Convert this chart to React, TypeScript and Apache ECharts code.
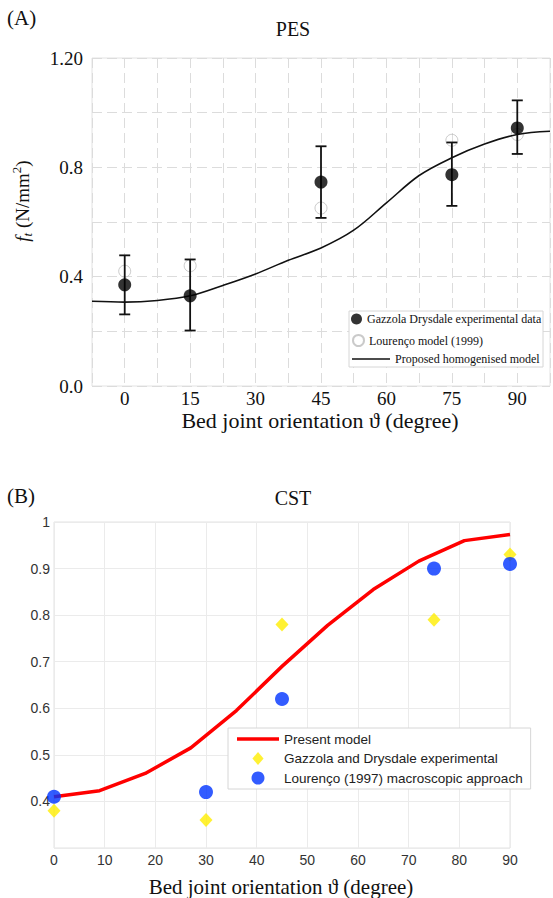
import React, { useEffect, useRef } from "react";
import * as echarts from "echarts";

// ---------- Panel A (PES) ----------
const pesModelX = [-7.5, 0, 7.5, 15, 22.5, 30, 37.5, 45, 52.5, 60, 67.5, 75, 82.5, 90, 97.5];
const pesModelY = [0.31, 0.307, 0.313, 0.33, 0.368, 0.41, 0.46, 0.505, 0.57, 0.67, 0.77, 0.835, 0.885, 0.92, 0.932];
const pesExpX = [0, 15, 45, 75, 90];
const pesExpY = [0.37, 0.33, 0.746, 0.773, 0.944];
const pesExpLow = [0.262, 0.203, 0.615, 0.659, 0.849];
const pesExpHigh = [0.478, 0.463, 0.877, 0.891, 1.045];
const pesLourencoX = [0, 15, 45, 75, 90];
const pesLourencoY = [0.42, 0.44, 0.651, 0.899, 0.92];
const pesYTicks: Record<string, string> = { "0": "0.0", "0.4": "0.4", "0.8": "0.8", "1.2": "1.20" };
const pesXTicks = [0, 15, 30, 45, 60, 75, 90];

// ---------- Panel B (CST) ----------
const cstModelX = [0, 9, 18, 27, 36, 45, 54, 63, 72, 81, 90];
const cstModelY = [0.41, 0.423, 0.46, 0.515, 0.595, 0.69, 0.778, 0.855, 0.916, 0.96, 0.973];
const cstExpX = [0, 30, 45, 75, 90];
const cstExpY = [0.38, 0.36, 0.78, 0.79, 0.93];
const cstLourencoX = [0, 30, 45, 75, 90];
const cstLourencoY = [0.41, 0.42, 0.62, 0.9, 0.91];

const SERIF = "'Liberation Serif', 'Times New Roman', serif";
const SANS = "'Liberation Sans', Arial, sans-serif";

const NAME_A1 = "Gazzola Drysdale experimental data";
const NAME_A2 = "Lourenço model (1999)";
const NAME_A3 = "Proposed homogenised model";
const NAME_B1 = "Present model";
const NAME_B2 = "Gazzola and Drysdale experimental";
const NAME_B3 = "Lourenço (1997) macroscopic approach";

export default function App() {
  const ref = useRef<HTMLDivElement>(null);
  useEffect(() => {
    if (!ref.current) return;
    const chart = echarts.init(ref.current, undefined, { renderer: "svg" });
    const zip = (xs: number[], ys: number[]) => xs.map((x, i) => [x, ys[i]]);
    const dash = [10, 5];
    const legendTextA = { fontFamily: SERIF, fontSize: 12, color: "#111" };
    const option: any = {
      animation: false,
      backgroundColor: "#fff",
      grid: [
        { left: 92, top: 58, width: 462, height: 328, show: true, borderColor: "#e2e2e2", borderWidth: 1 },
        { left: 54, top: 522, width: 456, height: 326, show: true, borderColor: "#e2e2e2", borderWidth: 1 },
      ],
      xAxis: [
        {
          gridIndex: 0, type: "value", min: -7.5, max: 97.5, interval: 7.5,
          axisLine: { show: false }, axisTick: { show: false },
          splitLine: { show: true, lineStyle: { color: "#dcdcdc", type: dash, width: 1 } },
          axisLabel: {
            margin: 3, fontSize: 19, fontFamily: SERIF, color: "#111",
            showMinLabel: true, showMaxLabel: true,
            formatter: (v: number) => (pesXTicks.indexOf(Math.round(v * 10) / 10) >= 0 ? String(Math.round(v)) : ""),
          },
        },
        {
          gridIndex: 1, type: "value", min: 0, max: 90, interval: 10,
          axisLine: { show: false }, axisTick: { show: false },
          splitLine: { show: true, lineStyle: { color: "#ebebeb", width: 1 } },
          axisLabel: { margin: 5, fontSize: 14, fontFamily: SANS, color: "#333" },
        },
      ],
      yAxis: [
        {
          gridIndex: 0, type: "value", min: 0, max: 1.2, interval: 0.2,
          axisLine: { show: false }, axisTick: { show: false },
          splitLine: { show: true, lineStyle: { color: "#dcdcdc", type: dash, width: 1 } },
          axisLabel: {
            margin: 9, fontSize: 19, fontFamily: SERIF, color: "#111",
            formatter: (v: number) => pesYTicks[String(Math.round(v * 10) / 10)] || "",
          },
        },
        {
          gridIndex: 1, type: "value", min: 0.3, max: 1, interval: 0.1,
          axisLine: { show: false }, axisTick: { show: false },
          splitLine: { show: true, lineStyle: { color: "#ebebeb", width: 1 } },
          axisLabel: {
            margin: 4, fontSize: 14, fontFamily: SANS, color: "#333",
            formatter: (v: number) => {
              const r = Math.round(v * 10) / 10;
              if (r <= 0.3) return "";
              if (r >= 1) return "1";
              return r.toFixed(1);
            },
          },
        },
      ],
      legend: [
        {
          data: [{ name: NAME_A1, icon: "circle" }], left: 351, top: 313, orient: "vertical",
          itemWidth: 11, itemHeight: 11, padding: 0, z: 20, textStyle: legendTextA,
        },
        {
          data: [{ name: NAME_A2, icon: "circle" }], left: 352, top: 334, orient: "vertical",
          itemWidth: 11, itemHeight: 11, padding: 0, z: 20, textStyle: legendTextA,
        },
        {
          data: [{ name: NAME_A3, icon: "path://M0,0H38V1.6H0Z" }], left: 352, top: 353, orient: "vertical",
          symbolKeepAspect: true, itemWidth: 38, itemHeight: 12, padding: 0, z: 20, textStyle: legendTextA,
        },
        {
          data: [
            { name: NAME_B1, icon: "path://M0,0H42V3.5H0Z" },
            { name: NAME_B2, icon: "path://M6,0L12,7L6,14L0,7Z" },
            { name: NAME_B3, icon: "circle" },
          ],
          left: 228, top: 728, orient: "vertical", symbolKeepAspect: true,
          itemWidth: 42, itemHeight: 13, itemGap: 5.5, padding: [4, 8, 4, 9], z: 20,
          backgroundColor: "#fff", borderColor: "#d6d6d6", borderWidth: 1,
          textStyle: { fontFamily: SANS, fontSize: 13.5, color: "#222" },
        },
      ],
      graphic: [
        { type: "rect", z: 10, shape: { x: 349, y: 311, width: 194, height: 56 }, style: { fill: "#fff", stroke: "#d6d6d6", lineWidth: 1 } },
        { type: "text", x: 7, y: 18, style: { text: "(A)", fontFamily: SERIF, fontSize: 21, fill: "#111", align: "left", verticalAlign: "middle" } },
        { type: "text", x: 293, y: 29, style: { text: "PES", fontFamily: SERIF, fontSize: 20, fill: "#111", align: "center", verticalAlign: "middle" } },
        { type: "text", x: 7, y: 496, style: { text: "(B)", fontFamily: SERIF, fontSize: 21, fill: "#111", align: "left", verticalAlign: "middle" } },
        { type: "text", x: 293, y: 498, style: { text: "CST", fontFamily: SERIF, fontSize: 20, fill: "#111", align: "center", verticalAlign: "middle" } },
        { type: "text", x: 320, y: 420, style: { text: "Bed joint orientation ϑ (degree)", fontFamily: SERIF, fontSize: 22, fill: "#111", align: "center", verticalAlign: "middle" } },
        { type: "text", x: 281, y: 887, style: { text: "Bed joint orientation ϑ (degree)", fontFamily: SERIF, fontSize: 21, fill: "#111", align: "center", verticalAlign: "middle" } },
        {
          type: "text", x: 22, y: 201, rotation: Math.PI / 2,
          style: {
            text: "{f|f}{t|t}{n| (N/mm}{s|2}{n|)}",
            align: "center", verticalAlign: "middle", fill: "#111",
            rich: {
              f: { fontFamily: SERIF, fontSize: 19, fontStyle: "italic", lineHeight: 24, verticalAlign: "middle" },
              t: { fontFamily: SERIF, fontSize: 13, fontStyle: "italic", lineHeight: 24, verticalAlign: "bottom", padding: [8, 0, 0, 0] },
              n: { fontFamily: SERIF, fontSize: 19, lineHeight: 24, verticalAlign: "middle" },
              s: { fontFamily: SERIF, fontSize: 13, lineHeight: 24, verticalAlign: "top", padding: [0, 0, 8, 0] },
            },
          },
        },
      ],
      series: [
        {
          name: NAME_A2, type: "scatter", xAxisIndex: 0, yAxisIndex: 0, z: 2,
          data: zip(pesLourencoX, pesLourencoY), symbol: "circle", symbolSize: 12,
          itemStyle: { color: "rgba(255,255,255,0)", borderColor: "#bdbdbd", borderWidth: 1 },
        },
        {
          name: NAME_A3, type: "line", xAxisIndex: 0, yAxisIndex: 0, z: 3,
          data: zip(pesModelX, pesModelY), smooth: 0.35, symbol: "none",
          lineStyle: { color: "#111", width: 1.6 },
          itemStyle: { color: "#111" },
        },
        {
          name: "error", type: "custom", xAxisIndex: 0, yAxisIndex: 0, z: 4,
          data: pesExpX.map((x, i) => [x, pesExpLow[i], pesExpHigh[i]]),
          encode: { x: 0, y: [1, 2] },
          renderItem: (_p: any, api: any) => {
            const x = api.value(0);
            const a = api.coord([x, api.value(1)]);
            const b = api.coord([x, api.value(2)]);
            const w = 5.5;
            const style = { stroke: "#111", lineWidth: 1.8 };
            return {
              type: "group",
              children: [
                { type: "line", shape: { x1: a[0], y1: a[1], x2: b[0], y2: b[1] }, style },
                { type: "line", shape: { x1: a[0] - w, y1: a[1], x2: a[0] + w, y2: a[1] }, style },
                { type: "line", shape: { x1: b[0] - w, y1: b[1], x2: b[0] + w, y2: b[1] }, style },
              ],
            };
          },
        },
        {
          name: NAME_A1, type: "scatter", xAxisIndex: 0, yAxisIndex: 0, z: 5,
          data: zip(pesExpX, pesExpY), symbol: "circle", symbolSize: 13,
          itemStyle: { color: "#000" },
        },
        {
          name: NAME_B1, type: "line", xAxisIndex: 1, yAxisIndex: 1, z: 3,
          data: zip(cstModelX, cstModelY), symbol: "none",
          lineStyle: { color: "#ff0000", width: 3.5 },
          itemStyle: { color: "#ff0000" },
        },
        {
          name: NAME_B2, type: "scatter", xAxisIndex: 1, yAxisIndex: 1, z: 4,
          data: zip(cstExpX, cstExpY), symbol: "diamond", symbolSize: [13, 14],
          itemStyle: { color: "#ffee00" },
        },
        {
          name: NAME_B3, type: "scatter", xAxisIndex: 1, yAxisIndex: 1, z: 5,
          data: zip(cstLourencoX, cstLourencoY), symbol: "circle", symbolSize: 14,
          itemStyle: { color: "#0033ff" },
        },
      ],
    };
    chart.setOption(option);
    return () => chart.dispose();
  }, []);
  return <div ref={ref} style={{ position: "absolute", left: 0, top: 0, width: 553, height: 898, background: "#fff" }} />;
}
